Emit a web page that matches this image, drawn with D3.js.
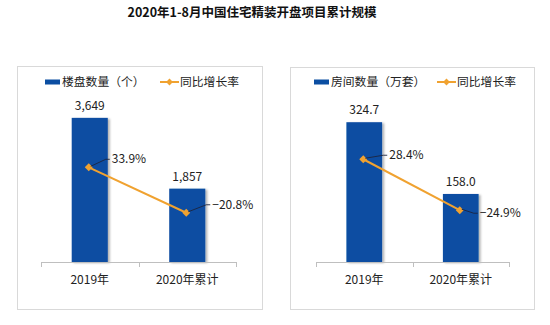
<!DOCTYPE html>
<html>
<head>
<meta charset="utf-8">
<script src="https://cdn.jsdelivr.net/npm/d3@7/dist/d3.min.js"></script>
<style>
  html, body { margin: 0; padding: 0; background: #fff; }
  svg { display: block; font-family: "Noto Sans CJK SC", "Noto Sans", sans-serif; }
</style>
</head>
<body>
<svg id="chart" width="550" height="325"></svg>
<script>
// Data
const title = "2020年1-8月中国住宅精装开盘项目累计规模";
const categories = ["2019年", "2020年累计"];
const projectCounts = [3649, 1857];
const roomCounts = [324.7, 158.0];
const projectGrowth = [33.9, -20.8];
const roomGrowth = [28.4, -24.9];
const barLegendLabels = ["楼盘数量（个）", "房间数量（万套）"];
const lineLegendLabel = "同比增长率";

const BAR_COLOR = "#0b4ea2";
const LINE_COLOR = "#f0a230";

const svg = d3.select("#chart");

// drop shadow used on the bars
const defs = svg.append("defs");
const shadow = defs.append("filter").attr("id", "barShadow")
  .attr("x", "-20%").attr("y", "-10%").attr("width", "150%").attr("height", "130%");
shadow.append("feDropShadow").attr("dx", 2).attr("dy", 1)
  .attr("stdDeviation", 1.2).attr("flood-color", "#000").attr("flood-opacity", 0.3);

svg.append("text")
  .attr("x", 252).attr("y", 17)
  .attr("text-anchor", "middle")
  .attr("font-size", 12.5).attr("font-weight", "bold")
  .attr("fill", "#111")
  .text(title);

// Panel layouts
const panels = [
  {
    box: [17, 66, 262, 309],
    axisX: [41, 236],
    plotY: [262, 104],
    barDomain: [0, 4000],
    lineDomain: [-80, 110],
    values: projectCounts,
    growth: projectGrowth,
    fmt: d3.format(","),
    legendLabel: barLegendLabels[0],
    legendX: 45,
    lineLegendX: 160,
    pctOffsets: [[23, -8], [26, -8]]
  },
  {
    box: [290, 67, 534, 309],
    axisX: [316, 509],
    plotY: [262, 107],
    barDomain: [0, 360],
    lineDomain: [-79, 83],
    values: roomCounts,
    growth: roomGrowth,
    fmt: d3.format(".1f"),
    legendLabel: barLegendLabels[1],
    legendX: 314,
    lineLegendX: 437,
    pctOffsets: [[26, -4], [20, 3]]
  }
];

panels.forEach(p => {
  const g = svg.append("g");
  const [bx0, by0, bx1, by1] = p.box;

  g.append("rect")
    .attr("x", bx0 + 0.5).attr("y", by0 + 0.5)
    .attr("width", bx1 - bx0).attr("height", by1 - by0)
    .attr("fill", "#fff").attr("stroke", "#d9d9d9");

  const x = d3.scaleBand().domain(categories).range(p.axisX).padding(0);
  const y = d3.scaleLinear().domain(p.barDomain).range(p.plotY);
  const y2 = d3.scaleLinear().domain(p.lineDomain).range(p.plotY);
  const barW = x.bandwidth() * 0.37;
  const cx = c => x(c) + x.bandwidth() / 2;

  // bars
  g.selectAll(".bar").data(categories).join("rect")
    .attr("class", "bar")
    .attr("x", c => cx(c) - barW / 2)
    .attr("y", (c, i) => y(p.values[i]))
    .attr("width", barW)
    .attr("height", (c, i) => y(0) - y(p.values[i]))
    .attr("fill", BAR_COLOR)
    .attr("filter", "url(#barShadow)");

  // category axis
  const axis = g.append("g")
    .attr("transform", `translate(0,${y(0)})`)
    .call(d3.axisBottom(x).tickSize(0).tickPadding(13));
  axis.select(".domain").attr("stroke", "#bfbfbf").attr("d", `M${p.axisX[0]},0.5H${p.axisX[1]}`);
  axis.selectAll("text").attr("font-size", 12).attr("fill", "#222")
    .attr("font-family", "\"Noto Sans CJK SC\", sans-serif");
  const tickXs = [p.axisX[0]].concat(categories.map(c => x(c) + x.bandwidth()));
  axis.selectAll(".edge").data(tickXs).join("line")
    .attr("class", "edge")
    .attr("x1", d => Math.round(d) + 0.5).attr("x2", d => Math.round(d) + 0.5)
    .attr("y1", 0).attr("y2", 5)
    .attr("stroke", "#bfbfbf");

  // value labels
  g.selectAll(".val").data(categories).join("text")
    .attr("class", "val")
    .attr("x", c => cx(c))
    .attr("y", (c, i) => y(p.values[i]) - 8)
    .attr("text-anchor", "middle")
    .attr("font-size", 12).attr("fill", "#222")
    .text((c, i) => p.fmt(p.values[i]));

  // growth line
  const pts = categories.map((c, i) => [cx(c) - 1, y2(p.growth[i])]);
  g.append("path")
    .attr("d", d3.line()(pts))
    .attr("fill", "none").attr("stroke", LINE_COLOR).attr("stroke-width", 2);
  g.selectAll(".mk").data(pts).join("path")
    .attr("class", "mk")
    .attr("transform", d => `translate(${d[0]},${d[1]})`)
    .attr("d", d3.symbol(d3.symbolDiamond2, 40)())
    .attr("fill", LINE_COLOR);

  // growth labels with leader lines
  pts.forEach((pt, i) => {
    const [dx, dy] = p.pctOffsets[i];
    const tx = pt[0] + dx, ty = pt[1] + dy;
    g.append("path")
      .attr("d", `M${pt[0] + 2},${pt[1] - 1}L${tx - 6},${ty}H${tx - 2}`)
      .attr("fill", "none").attr("stroke", "#1c2540").attr("stroke-width", 0.9);
    g.append("text")
      .attr("x", tx).attr("y", ty)
      .attr("dy", "0.35em")
      .attr("font-size", 12).attr("fill", "#222")
      .text(d3.format(".1f")(p.growth[i]) + "%");
  });

  // legend
  const ly = 82;
  g.append("rect")
    .attr("x", p.legendX).attr("y", ly - 2.5)
    .attr("width", 15).attr("height", 5)
    .attr("fill", BAR_COLOR);
  g.append("text")
    .attr("x", p.legendX + 17).attr("y", ly).attr("dy", "0.35em")
    .attr("font-size", 11.8).attr("fill", "#222")
    .text(p.legendLabel);
  g.append("line")
    .attr("x1", p.lineLegendX).attr("x2", p.lineLegendX + 19)
    .attr("y1", ly).attr("y2", ly)
    .attr("stroke", LINE_COLOR).attr("stroke-width", 2);
  g.append("path")
    .attr("transform", `translate(${p.lineLegendX + 9.5},${ly})`)
    .attr("d", d3.symbol(d3.symbolDiamond2, 30)())
    .attr("fill", LINE_COLOR);
  g.append("text")
    .attr("x", p.lineLegendX + 20).attr("y", ly).attr("dy", "0.35em")
    .attr("font-size", 11.8).attr("fill", "#222")
    .text(lineLegendLabel);
});
</script>
</body>
</html>
